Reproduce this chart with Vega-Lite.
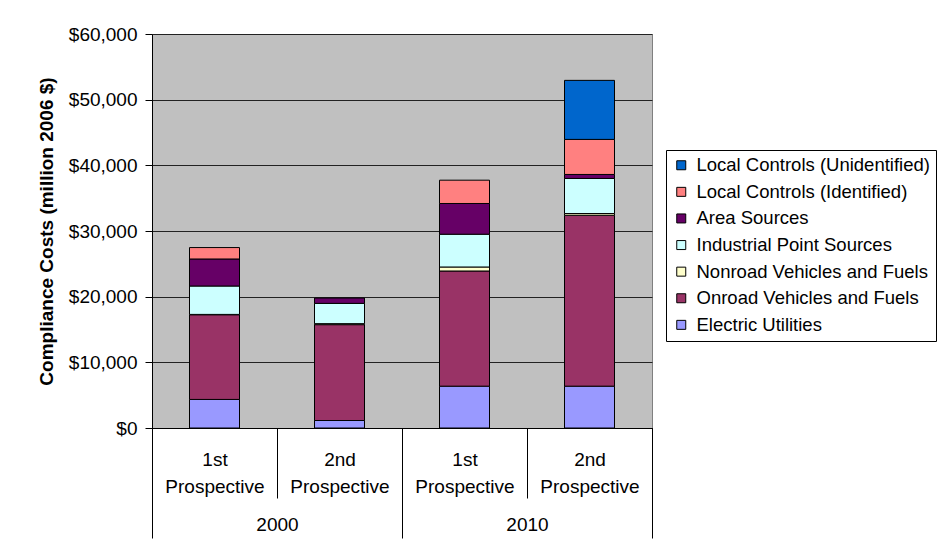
{
  "$schema": "https://vega.github.io/schema/vega-lite/v6.json",
  "width": 500,
  "height": 394,
  "autosize": {"type": "none"},
  "padding": {"left": 152, "top": 34, "right": 288, "bottom": 128},
  "background": "white",
  "config": {
    "font": "Liberation Sans",
    "view": {"fill": "#C0C0C0", "stroke": "#808080", "strokeWidth": 1},
    "axis": {"labelFont": "Liberation Sans", "titleFont": "Liberation Sans", "labelColor": "black", "titleColor": "black"}
  },
  "data": {
    "values": [
      {"bar": "2000 1st Prospective", "year": "2000", "source": "Electric Utilities", "cost": 4350},
      {"bar": "2000 1st Prospective", "year": "2000", "source": "Onroad Vehicles and Fuels", "cost": 12900},
      {"bar": "2000 1st Prospective", "year": "2000", "source": "Nonroad Vehicles and Fuels", "cost": 50},
      {"bar": "2000 1st Prospective", "year": "2000", "source": "Industrial Point Sources", "cost": 4320},
      {"bar": "2000 1st Prospective", "year": "2000", "source": "Area Sources", "cost": 4120},
      {"bar": "2000 1st Prospective", "year": "2000", "source": "Local Controls (Identified)", "cost": 1740},
      {"bar": "2000 2nd Prospective", "year": "2000", "source": "Electric Utilities", "cost": 1140},
      {"bar": "2000 2nd Prospective", "year": "2000", "source": "Onroad Vehicles and Fuels", "cost": 14600},
      {"bar": "2000 2nd Prospective", "year": "2000", "source": "Nonroad Vehicles and Fuels", "cost": 150},
      {"bar": "2000 2nd Prospective", "year": "2000", "source": "Industrial Point Sources", "cost": 3090},
      {"bar": "2000 2nd Prospective", "year": "2000", "source": "Area Sources", "cost": 810},
      {"bar": "2010 1st Prospective", "year": "2010", "source": "Electric Utilities", "cost": 6370},
      {"bar": "2010 1st Prospective", "year": "2010", "source": "Onroad Vehicles and Fuels", "cost": 17540},
      {"bar": "2010 1st Prospective", "year": "2010", "source": "Nonroad Vehicles and Fuels", "cost": 610},
      {"bar": "2010 1st Prospective", "year": "2010", "source": "Industrial Point Sources", "cost": 4990},
      {"bar": "2010 1st Prospective", "year": "2010", "source": "Area Sources", "cost": 4680},
      {"bar": "2010 1st Prospective", "year": "2010", "source": "Local Controls (Identified)", "cost": 3550},
      {"bar": "2010 2nd Prospective", "year": "2010", "source": "Electric Utilities", "cost": 6370},
      {"bar": "2010 2nd Prospective", "year": "2010", "source": "Onroad Vehicles and Fuels", "cost": 26030},
      {"bar": "2010 2nd Prospective", "year": "2010", "source": "Nonroad Vehicles and Fuels", "cost": 260},
      {"bar": "2010 2nd Prospective", "year": "2010", "source": "Industrial Point Sources", "cost": 5340},
      {"bar": "2010 2nd Prospective", "year": "2010", "source": "Area Sources", "cost": 610},
      {"bar": "2010 2nd Prospective", "year": "2010", "source": "Local Controls (Identified)", "cost": 5340},
      {"bar": "2010 2nd Prospective", "year": "2010", "source": "Local Controls (Unidentified)", "cost": 8990}
    ]
  },
  "transform": [
    {"calculate": "indexof(['Local Controls (Unidentified)','Local Controls (Identified)','Area Sources','Industrial Point Sources','Nonroad Vehicles and Fuels','Onroad Vehicles and Fuels','Electric Utilities'], datum.source)", "as": "stackIdx"}
  ],
  "layer": [
    {
      "mark": {"type": "bar", "stroke": "black", "strokeWidth": 1, "opacity": 1, "width": {"band": 0.4}},
      "encoding": {
        "x": {
          "field": "bar", "type": "nominal", "sort": null,
          "scale": {"paddingInner": 0, "paddingOuter": 0},
          "axis": {
            "title": null, "orient": "bottom", "labelAngle": 0,
            "labelExpr": "slice(split(datum.label, ' '), 1)",
            "labelFontSize": 19, "labelLineHeight": 27, "labelBaseline": "top",
            "tickBand": "extent", "tickSize": 70, "tickColor": "black", "domainColor": "black",
            "labelPadding": -48, "grid": false
          }
        },
        "y": {
          "field": "cost", "type": "quantitative", "aggregate": "sum", "stack": "zero",
          "scale": {"domain": [0, 60000], "nice": false},
          "axis": {
            "title": "Compliance Costs (million 2006 $)",
            "titleFontSize": 19, "titleFontWeight": "bold", "titlePadding": 12,
            "values": [0, 10000, 20000, 30000, 40000, 50000, 60000],
            "format": "$,.0f", "labelFontSize": 19, "labelPadding": 8,
            "tickSize": 7, "tickColor": "black", "domainColor": "black",
            "grid": true, "gridColor": "#222222", "gridWidth": 1
          }
        },
        "color": {
          "field": "source", "type": "nominal",
          "sort": ["Local Controls (Unidentified)", "Local Controls (Identified)", "Area Sources", "Industrial Point Sources", "Nonroad Vehicles and Fuels", "Onroad Vehicles and Fuels", "Electric Utilities"],
          "scale": {
            "domain": ["Local Controls (Unidentified)", "Local Controls (Identified)", "Area Sources", "Industrial Point Sources", "Nonroad Vehicles and Fuels", "Onroad Vehicles and Fuels", "Electric Utilities"],
            "range": ["#0066CC", "#FF8080", "#660066", "#CCFFFF", "#FFFFCC", "#993366", "#9999FF"]
          },
          "legend": {
            "title": null, "orient": "none", "legendX": 514, "legendY": 116,
            "fillColor": "white", "strokeColor": "black", "padding": 6,
            "symbolType": "square", "symbolSize": 81, "symbolStrokeColor": "black", "symbolStrokeWidth": 1, "symbolOpacity": 1,
            "labelFontSize": 18.5, "labelFont": "Liberation Sans", "labelColor": "black",
            "rowPadding": 7.6, "labelOffset": 6, "labelLimit": 400
          }
        },
        "order": {"field": "stackIdx", "type": "quantitative", "sort": "descending"}
      }
    },
    {
      "mark": {"type": "tick", "opacity": 0},
      "encoding": {
        "x": {
          "field": "year", "type": "nominal",
          "scale": {"paddingInner": 0, "paddingOuter": 0},
          "axis": {
            "title": null, "orient": "bottom", "labelAngle": 0,
            "labelFontSize": 19, "labelBaseline": "top",
            "tickBand": "extent", "tickSize": 110, "tickColor": "black", "domainColor": "black",
            "labelPadding": -23, "grid": false
          }
        }
      }
    }
  ],
  "resolve": {"scale": {"x": "independent"}, "axis": {"x": "independent"}}
}
